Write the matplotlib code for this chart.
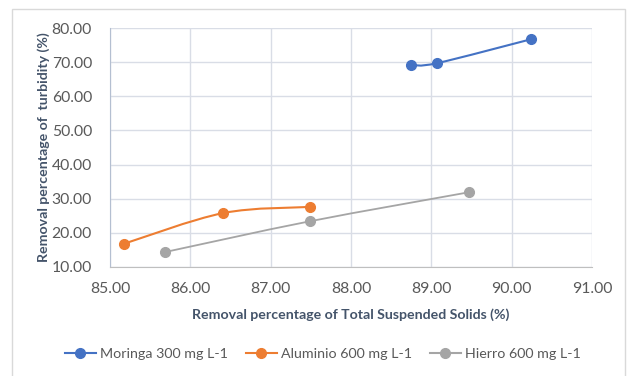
import numpy as np
import matplotlib.pyplot as plt
from matplotlib.path import Path
from matplotlib.patches import PathPatch, Rectangle
from matplotlib.lines import Line2D

plt.rcParams['font.family'] = ['Lato', 'DejaVu Sans']

# removal of total suspended solids (%) vs removal of turbidity (%)
moringa_x = [88.75, 89.07, 90.24]
moringa_y = [69.15, 69.70, 76.70]
aluminio_x = [85.18, 86.41, 87.49]
aluminio_y = [16.86, 25.80, 27.60]
hierro_x = [85.69, 87.49, 89.47]
hierro_y = [14.40, 23.40, 31.90]

labels = ['Moringa 300 mg L-1', 'Aluminio 600 mg L-1', 'Hierro 600 mg L-1']
colors = ['#4472c4', '#ed7d31', '#a5a5a5']


def smooth_path(xs, ys):
    # Bezier path through the points, like a smoothed line in a spreadsheet
    pts = np.column_stack([xs, ys]).astype(float)
    n = len(pts)
    verts = [pts[0]]
    codes = [Path.MOVETO]
    for i in range(n - 1):
        p0 = pts[i - 1] if i > 0 else pts[i]
        p1 = pts[i]
        p2 = pts[i + 1]
        p3 = pts[i + 2] if i + 2 < n else pts[i + 1]
        c1 = p1 + (p2 - p0) / 6.0
        c2 = p2 - (p3 - p1) / 6.0
        verts += [c1, c2, p2]
        codes += [Path.CURVE4] * 3
    return Path(verts, codes)


fig = plt.figure(figsize=(6.3, 3.76), dpi=100)
fig.patches.append(Rectangle((12 / 630, -0.05), 613 / 630, 1 - 9 / 376 + 0.05,
                             transform=fig.transFigure, fill=False,
                             edgecolor='#d9d9d9', linewidth=1.0))
ax = fig.add_axes([110 / 630, 1 - 267 / 376, 482 / 630, 239 / 376])

for xs, ys, c, lab in zip([moringa_x, aluminio_x, hierro_x],
                          [moringa_y, aluminio_y, hierro_y], colors, labels):
    lw = 1.5 if c != '#a5a5a5' else 1.3
    ax.add_patch(PathPatch(smooth_path(xs, ys), fill=False, edgecolor=c,
                           linewidth=lw, zorder=3))
    ax.plot(xs, ys, linestyle='none', marker='o', markersize=7, color=c,
            zorder=4)

ax.set_xlim(85, 91)
ax.set_ylim(10, 80)
ax.set_xticks(np.arange(85, 91.5, 1))
ax.set_yticks(np.arange(10, 81, 10))
ax.xaxis.set_major_formatter(lambda v, p: f'{v:.2f}')
ax.yaxis.set_major_formatter(lambda v, p: f'{v:.2f}')
ax.grid(True, color='#d9dde6', linewidth=1.0)
ax.set_axisbelow(True)
ax.tick_params(length=0, labelsize=11.3, labelcolor='#595959')
ax.tick_params(axis='x', pad=11)
ax.tick_params(axis='y', pad=13)
for side in ['top', 'right']:
    ax.spines[side].set_visible(False)
ax.spines['left'].set_color('#b4bfd1')
ax.spines['bottom'].set_color('#bfbfbf')

ax.set_xlabel('Removal percentage of Total Suspended Solids (%)',
              fontsize=10.2, fontweight='bold', color='#44546a', labelpad=9)
ax.set_ylabel('Removal percentage of  turbidity (%)',
              fontsize=10.2, fontweight='bold', color='#44546a', labelpad=1)

handles = [Line2D([], [], color=c, marker='o', markersize=7, linewidth=1.5)
           for c in colors]
fig.legend(handles, labels, loc='center', bbox_to_anchor=(323 / 630, 1 - 354 / 376),
           ncol=3, frameon=False, fontsize=10.3, labelcolor='#595959',
           handlelength=2.2, columnspacing=1.2, handletextpad=0.3)

fig.savefig('out.png', dpi=100)
